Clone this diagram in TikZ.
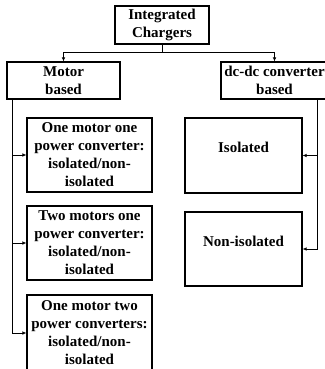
\documentclass[tikz,border=0pt]{standalone}
\usepackage{fontspec}
\setmainfont{Liberation Serif}
\usetikzlibrary{arrows.meta, positioning, calc}

\begin{document}
\begin{tikzpicture}[
  x=1pt, y=-1pt,
  >={Latex[length=4pt, width=3.5pt]},
  box/.style = {draw, line width=1.1pt, align=center, inner sep=1pt,
    font=\bfseries\fontsize{15}{18}\selectfont},
  bigbox/.style = {box, minimum width=125, minimum height=74},
  rbox/.style = {box, minimum width=117, minimum height=75, text depth=16pt},
  link/.style = {line width=0.7pt},
  ]
  \useasboundingbox (0, 0) rectangle (324, 369);

  \node[box, minimum width=94, minimum height=38] (top) at (162, 25) {Integrated\\Chargers};
  \node[box, minimum width=113, minimum height=37] (motor) at (63.5, 80.5) {Motor\\based};
  \node[box, minimum width=107, minimum height=37] (dcdc) at (274.5, 80.5) {dc-dc converter\\based};
  \node[bigbox] (omopc) at (89.5, 155) {One motor one\\power converter:\\isolated/non-\\isolated};
  \node[bigbox] (tmopc) at (89.5, 243) {Two motors one\\power converter:\\isolated/non-\\isolated};
  \node[bigbox, minimum height=76] (omtpc) at (89.5, 333) {One motor two\\power converters:\\isolated/non-\\isolated};
  \node[rbox] (iso) at (243.5, 155.5) {Isolated};
  \node[rbox, minimum height=74] (noniso) at (243.5, 249) {Non-isolated};

  \coordinate (split) at (162, 52);
  \coordinate (lbus) at (12, 99);
  \coordinate (rbus) at (317, 99);

  \draw[link] (top) -- (split);
  \draw[link, ->] (split) -| (motor.north);
  \draw[link, ->] (split) -| (dcdc.north);
  \draw[link, ->] (lbus) |- (omopc.west);
  \draw[link, ->] (lbus) |- (tmopc.west);
  \draw[link, ->] (lbus) |- (omtpc.west);
  \draw[link, ->] (rbus) |- (iso.east);
  \draw[link, ->] (rbus) |- (noniso.east);
\end{tikzpicture}
\end{document}
